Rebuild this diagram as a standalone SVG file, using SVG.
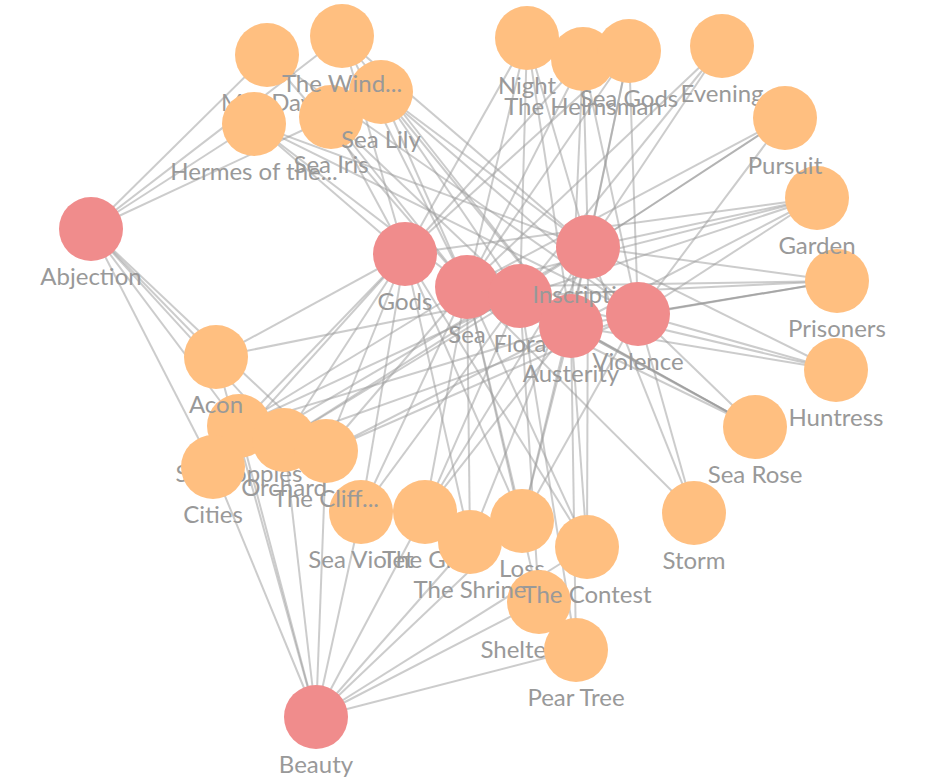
<svg xmlns="http://www.w3.org/2000/svg" width="935" height="782" viewBox="0 0 935 782">
<style>
#links line{stroke:#999;stroke-opacity:0.5;stroke-width:2}
#links line.dk{stroke-opacity:0.75;stroke-width:2}
.t circle{fill:#f08c8c}
.p circle{fill:#ffbf80}
text{font-family:Lato,"Liberation Sans",sans-serif;font-size:24px;fill:#999;text-anchor:middle}
</style>
<rect width="935" height="782" fill="#fff"/>
<g id="links">
<line x1="91" y1="229" x2="267" y2="55"/>
<line x1="91" y1="229" x2="342" y2="36"/>
<line x1="91" y1="229" x2="254" y2="124"/>
<line x1="91" y1="229" x2="331" y2="117"/>
<line x1="91" y1="229" x2="216" y2="357"/>
<line x1="91" y1="229" x2="239" y2="426"/>
<line x1="91" y1="229" x2="284" y2="440"/>
<line x1="91" y1="229" x2="326" y2="451"/>
<line x1="91" y1="229" x2="213" y2="467"/>
<line x1="316" y1="717" x2="213" y2="467"/>
<line x1="316" y1="717" x2="239" y2="426"/>
<line x1="316" y1="717" x2="216" y2="357"/>
<line x1="316" y1="717" x2="284" y2="440"/>
<line x1="316" y1="717" x2="326" y2="451"/>
<line x1="316" y1="717" x2="361" y2="512"/>
<line x1="316" y1="717" x2="425" y2="512"/>
<line x1="316" y1="717" x2="470" y2="542"/>
<line x1="316" y1="717" x2="522" y2="521"/>
<line x1="316" y1="717" x2="587" y2="547"/>
<line x1="316" y1="717" x2="539" y2="602"/>
<line x1="316" y1="717" x2="576" y2="650"/>
<line x1="405" y1="254" x2="254" y2="124"/>
<line x1="405" y1="254" x2="331" y2="117"/>
<line x1="405" y1="254" x2="342" y2="36"/>
<line x1="405" y1="254" x2="527" y2="38"/>
<line x1="405" y1="254" x2="583" y2="59"/>
<line x1="405" y1="254" x2="629" y2="51"/>
<line x1="405" y1="254" x2="216" y2="357"/>
<line x1="405" y1="254" x2="239" y2="426"/>
<line x1="405" y1="254" x2="213" y2="467"/>
<line x1="405" y1="254" x2="284" y2="440"/>
<line x1="405" y1="254" x2="326" y2="451"/>
<line x1="405" y1="254" x2="361" y2="512"/>
<line x1="405" y1="254" x2="470" y2="542"/>
<line x1="405" y1="254" x2="522" y2="521"/>
<line x1="405" y1="254" x2="587" y2="547"/>
<line x1="405" y1="254" x2="817" y2="198"/>
<line x1="467" y1="287" x2="267" y2="55"/>
<line x1="467" y1="287" x2="342" y2="36"/>
<line x1="467" y1="287" x2="254" y2="124"/>
<line x1="467" y1="287" x2="331" y2="117"/>
<line x1="467" y1="287" x2="381" y2="92"/>
<line x1="467" y1="287" x2="527" y2="38"/>
<line x1="467" y1="287" x2="583" y2="59"/>
<line x1="467" y1="287" x2="629" y2="51"/>
<line x1="467" y1="287" x2="722" y2="46"/>
<line x1="467" y1="287" x2="785" y2="118"/>
<line x1="467" y1="287" x2="817" y2="198"/>
<line x1="467" y1="287" x2="837" y2="281"/>
<line x1="467" y1="287" x2="755" y2="427"/>
<line x1="467" y1="287" x2="694" y2="513"/>
<line x1="467" y1="287" x2="239" y2="426"/>
<line x1="467" y1="287" x2="326" y2="451"/>
<line x1="467" y1="287" x2="361" y2="512"/>
<line x1="467" y1="287" x2="425" y2="512"/>
<line x1="467" y1="287" x2="470" y2="542"/>
<line x1="467" y1="287" x2="522" y2="521"/>
<line x1="467" y1="287" x2="587" y2="547"/>
<line x1="467" y1="287" x2="539" y2="602"/>
<line x1="520" y1="296" x2="331" y2="117"/>
<line x1="520" y1="296" x2="381" y2="92"/>
<line x1="520" y1="296" x2="527" y2="38"/>
<line x1="520" y1="296" x2="722" y2="46"/>
<line x1="520" y1="296" x2="817" y2="198"/>
<line x1="520" y1="296" x2="837" y2="281"/>
<line x1="520" y1="296" x2="836" y2="370"/>
<line x1="520" y1="296" x2="755" y2="427" class="dk"/>
<line x1="520" y1="296" x2="216" y2="357"/>
<line x1="520" y1="296" x2="239" y2="426"/>
<line x1="520" y1="296" x2="284" y2="440"/>
<line x1="520" y1="296" x2="361" y2="512"/>
<line x1="520" y1="296" x2="425" y2="512"/>
<line x1="520" y1="296" x2="539" y2="602"/>
<line x1="520" y1="296" x2="576" y2="650"/>
<line x1="588" y1="247" x2="342" y2="36"/>
<line x1="588" y1="247" x2="381" y2="92"/>
<line x1="588" y1="247" x2="254" y2="124"/>
<line x1="588" y1="247" x2="527" y2="38"/>
<line x1="588" y1="247" x2="583" y2="59"/>
<line x1="588" y1="247" x2="629" y2="51"/>
<line x1="588" y1="247" x2="722" y2="46"/>
<line x1="588" y1="247" x2="785" y2="118" class="dk"/>
<line x1="588" y1="247" x2="817" y2="198"/>
<line x1="588" y1="247" x2="837" y2="281"/>
<line x1="588" y1="247" x2="836" y2="370"/>
<line x1="588" y1="247" x2="694" y2="513"/>
<line x1="588" y1="247" x2="284" y2="440"/>
<line x1="588" y1="247" x2="213" y2="467"/>
<line x1="588" y1="247" x2="425" y2="512"/>
<line x1="588" y1="247" x2="470" y2="542"/>
<line x1="588" y1="247" x2="522" y2="521"/>
<line x1="588" y1="247" x2="587" y2="547"/>
<line x1="571" y1="326" x2="342" y2="36"/>
<line x1="571" y1="326" x2="381" y2="92"/>
<line x1="571" y1="326" x2="527" y2="38"/>
<line x1="571" y1="326" x2="583" y2="59"/>
<line x1="571" y1="326" x2="629" y2="51"/>
<line x1="571" y1="326" x2="817" y2="198"/>
<line x1="571" y1="326" x2="837" y2="281"/>
<line x1="571" y1="326" x2="836" y2="370"/>
<line x1="571" y1="326" x2="755" y2="427" class="dk"/>
<line x1="571" y1="326" x2="239" y2="426"/>
<line x1="571" y1="326" x2="326" y2="451"/>
<line x1="571" y1="326" x2="425" y2="512"/>
<line x1="571" y1="326" x2="587" y2="547"/>
<line x1="571" y1="326" x2="576" y2="650"/>
<line x1="571" y1="326" x2="522" y2="521"/>
<line x1="638" y1="314" x2="267" y2="55"/>
<line x1="638" y1="314" x2="254" y2="124"/>
<line x1="638" y1="314" x2="381" y2="92"/>
<line x1="638" y1="314" x2="583" y2="59"/>
<line x1="638" y1="314" x2="629" y2="51"/>
<line x1="638" y1="314" x2="785" y2="118"/>
<line x1="638" y1="314" x2="817" y2="198"/>
<line x1="638" y1="314" x2="837" y2="281" class="dk"/>
<line x1="638" y1="314" x2="836" y2="370"/>
<line x1="638" y1="314" x2="755" y2="427"/>
<line x1="638" y1="314" x2="694" y2="513"/>
<line x1="638" y1="314" x2="326" y2="451"/>
<line x1="638" y1="314" x2="522" y2="521"/>
<line x1="638" y1="314" x2="284" y2="440"/>
</g>
<g id="node-abjection" class="t"><circle cx="91" cy="229" r="32"/><text x="91" y="285">Abjection</text></g>
<g id="node-mid-day" class="p"><circle cx="267" cy="55" r="32"/><text x="267" y="111">Mid-Day</text></g>
<g id="node-hermes" class="p"><circle cx="254" cy="124" r="32"/><text x="254" y="180">Hermes of the...</text></g>
<g id="node-sea-iris" class="p"><circle cx="331" cy="117" r="32"/><text x="331" y="173">Sea Iris</text></g>
<g id="node-sea-lily" class="p"><circle cx="381" cy="92" r="32"/><text x="381" y="148">Sea Lily</text></g>
<g id="node-the-wind" class="p"><circle cx="342" cy="36" r="32"/><text x="342" y="92">The Wind...</text></g>
<g id="node-night" class="p"><circle cx="527" cy="38" r="32"/><text x="527" y="94">Night</text></g>
<g id="node-the-helmsman" class="p"><circle cx="583" cy="59" r="32"/><text x="583" y="115">The Helmsman</text></g>
<g id="node-sea-gods" class="p"><circle cx="629" cy="51" r="32"/><text x="629" y="107">Sea Gods</text></g>
<g id="node-evening" class="p"><circle cx="722" cy="46" r="32"/><text x="722" y="102">Evening</text></g>
<g id="node-prisoners" class="p"><circle cx="837" cy="281" r="32"/><text x="837" y="337">Prisoners</text></g>
<g id="node-garden" class="p"><circle cx="817" cy="198" r="32"/><text x="817" y="254">Garden</text></g>
<g id="node-pursuit" class="p"><circle cx="785" cy="118" r="32"/><text x="785" y="174">Pursuit</text></g>
<g id="node-huntress" class="p"><circle cx="836" cy="370" r="32"/><text x="836" y="426">Huntress</text></g>
<g id="node-sea-rose" class="p"><circle cx="755" cy="427" r="32"/><text x="755" y="483">Sea Rose</text></g>
<g id="node-storm" class="p"><circle cx="694" cy="513" r="32"/><text x="694" y="569">Storm</text></g>
<g id="node-gods" class="t"><circle cx="405" cy="254" r="32"/><text x="405" y="310">Gods</text></g>
<g id="node-sea" class="t"><circle cx="467" cy="287" r="32"/><text x="467" y="343">Sea</text></g>
<g id="node-flora" class="t"><circle cx="520" cy="296" r="32"/><text x="520" y="352">Flora</text></g>
<g id="node-austerity" class="t"><circle cx="571" cy="326" r="32"/><text x="571" y="382">Austerity</text></g>
<g id="node-inscription" class="t"><circle cx="588" cy="247" r="32"/><text x="588" y="303">Inscription</text></g>
<g id="node-violence" class="t"><circle cx="638" cy="314" r="32"/><text x="638" y="370">Violence</text></g>
<g id="node-sea-poppies" class="p"><circle cx="239" cy="426" r="32"/><text x="239" y="482">Sea Poppies</text></g>
<g id="node-acon" class="p"><circle cx="216" cy="357" r="32"/><text x="216" y="413">Acon</text></g>
<g id="node-cities" class="p"><circle cx="213" cy="467" r="32"/><text x="213" y="523">Cities</text></g>
<g id="node-orchard" class="p"><circle cx="284" cy="440" r="32"/><text x="284" y="496">Orchard</text></g>
<g id="node-sea-violet" class="p"><circle cx="361" cy="512" r="32"/><text x="361" y="568">Sea Violet</text></g>
<g id="node-the-cliff" class="p"><circle cx="326" cy="451" r="32"/><text x="326" y="507">The Cliff...</text></g>
<g id="node-the-gift" class="p"><circle cx="425" cy="512" r="32"/><text x="425" y="568">The Gift</text></g>
<g id="node-loss" class="p"><circle cx="522" cy="521" r="32"/><text x="522" y="577">Loss</text></g>
<g id="node-sheltered" class="p"><circle cx="539" cy="602" r="32"/><text x="539" y="658">Sheltered...</text></g>
<g id="node-the-shrine" class="p"><circle cx="470" cy="542" r="32"/><text x="470" y="598">The Shrine</text></g>
<g id="node-the-contest" class="p"><circle cx="587" cy="547" r="32"/><text x="587" y="603">The Contest</text></g>
<g id="node-pear-tree" class="p"><circle cx="576" cy="650" r="32"/><text x="576" y="706">Pear Tree</text></g>
<g id="node-beauty" class="t"><circle cx="316" cy="717" r="32"/><text x="316" y="773">Beauty</text></g>
</svg>
